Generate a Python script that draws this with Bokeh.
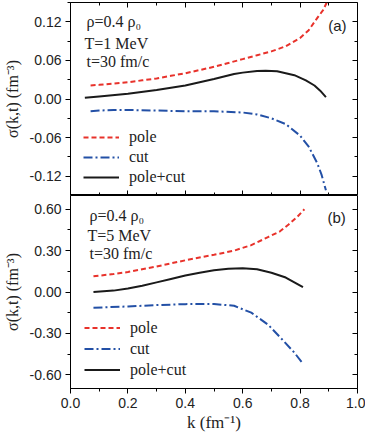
from bokeh.plotting import figure
from bokeh.models import (Range1d, LinearAxis, FixedTicker, Legend, LegendItem,
                          Label, CustomJSTickFormatter)
from bokeh.layouts import column
from bokeh.embed import file_html
from bokeh.resources import INLINE

# ---------------- data: panel (a), T = 1 MeV ----------------
k_pole_a = [0.07, 0.10, 0.15, 0.20, 0.25, 0.30, 0.35, 0.40, 0.45, 0.50, 0.55,
            0.60, 0.65, 0.70, 0.75, 0.80, 0.83, 0.86, 0.88, 0.895]
pole_a = [0.021, 0.022, 0.024, 0.026, 0.029, 0.032, 0.036, 0.040, 0.045, 0.050, 0.056,
          0.062, 0.068, 0.074, 0.082, 0.095, 0.107, 0.126, 0.138, 0.152]

k_cut_a = [0.07, 0.10, 0.15, 0.20, 0.30, 0.40, 0.50, 0.60, 0.65, 0.70, 0.75,
           0.80, 0.83, 0.86, 0.875, 0.89]
cut_a = [-0.019, -0.018, -0.017, -0.017, -0.018, -0.019, -0.019, -0.021, -0.024, -0.030, -0.039,
         -0.057, -0.074, -0.100, -0.118, -0.142]

k_sum_a = [0.05, 0.10, 0.20, 0.30, 0.40, 0.50, 0.57, 0.60, 0.65, 0.68, 0.72,
           0.78, 0.82, 0.85, 0.87, 0.89]
sum_a = [0.002, 0.004, 0.008, 0.014, 0.021, 0.031, 0.039, 0.041, 0.0435, 0.044, 0.043,
         0.037, 0.029, 0.021, 0.013, 0.003]

# ---------------- data: panel (b), T = 5 MeV ----------------
k_pole_b = [0.08, 0.15, 0.20, 0.30, 0.40, 0.50, 0.57, 0.63, 0.69, 0.73, 0.76, 0.79, 0.815]
pole_b = [0.114, 0.130, 0.145, 0.185, 0.230, 0.270, 0.300, 0.340, 0.400, 0.440, 0.490, 0.545, 0.600]

k_cut_b = [0.08, 0.20, 0.30, 0.40, 0.50, 0.57, 0.63, 0.69, 0.74, 0.78, 0.81]
cut_b = [-0.114, -0.105, -0.095, -0.088, -0.087, -0.100, -0.150, -0.240, -0.350, -0.440, -0.520]

k_sum_b = [0.08, 0.15, 0.20, 0.25, 0.30, 0.35, 0.40, 0.45, 0.50, 0.55, 0.60,
           0.65, 0.70, 0.75, 0.81]
sum_b = [0.000, 0.010, 0.025, 0.045, 0.070, 0.095, 0.120, 0.140, 0.157, 0.168, 0.173,
         0.165, 0.140, 0.105, 0.035]

# ---------------- ticks ----------------
x_major = [0.0, 0.2, 0.4, 0.6, 0.8, 1.0]
x_minor = [0.1, 0.3, 0.5, 0.7, 0.9]
ya_major = [-0.12, -0.06, 0.0, 0.06, 0.12]
ya_minor = [-0.15, -0.09, -0.03, 0.03, 0.09, 0.15]
yb_major = [-0.60, -0.30, 0.0, 0.30, 0.60]
yb_minor = [-0.45, -0.15, 0.15, 0.45]

series_labels = ["pole", "cut", "pole+cut"]

RED = "#e8322b"
BLUE = "#2350a6"
BLACK = "#1a1a1a"
SANS = "Liberation Sans"
SERIF = "Liberation Serif"


def style_axis(ax, t_in, t_out, m_in, m_out, labels):
    ax.major_tick_in = t_in
    ax.major_tick_out = t_out
    ax.minor_tick_in = m_in
    ax.minor_tick_out = m_out
    ax.axis_line_color = "black"
    ax.major_tick_line_color = "black"
    ax.minor_tick_line_color = "black"
    if not labels:
        ax.formatter = CustomJSTickFormatter(code="return '';")
        ax.major_label_standoff = 0


def make_panel(height, yr, ymaj, ymin, top, bottom, bottom_labels,
               ks, vals, leg_loc, leg_h, texts, tag, tag_pos):
    p = figure(width=365, height=height, x_range=Range1d(0, 1), y_range=Range1d(*yr),
               output_backend="svg", toolbar_location=None,
               min_border_left=69, min_border_right=8,
               min_border_top=top, min_border_bottom=bottom)
    p.grid.visible = False
    p.outline_line_color = "black"
    p.outline_line_width = 1
    p.background_fill_color = "white"
    p.border_fill_color = "white"

    xt = FixedTicker(ticks=x_major, minor_ticks=x_minor)
    yt = FixedTicker(ticks=ymaj, minor_ticks=ymin)

    # left axis
    yax = p.yaxis[0]
    yax.ticker = yt
    yax.formatter = CustomJSTickFormatter(code="return tick.toFixed(2);")
    style_axis(yax, 0, 5, 0, 3, True)
    yax.major_label_text_font = SANS
    yax.major_label_text_font_size = "14px"
    yax.major_label_text_color = "#222222"
    yax.major_label_standoff = 4
    yax.axis_label = "σ(k,t) (fm⁻³)"
    yax.axis_label_text_font = SERIF
    yax.axis_label_text_font_size = "16px"
    yax.axis_label_text_font_style = "normal"
    yax.axis_label_text_color = "#222222"
    yax.axis_label_standoff = 6

    # bottom axis
    xax = p.xaxis[0]
    xax.ticker = xt
    if bottom_labels:
        xax.formatter = CustomJSTickFormatter(code="return tick.toFixed(1);")
        style_axis(xax, 0, 5, 0, 3, True)
        xax.major_label_text_font = SANS
        xax.major_label_text_font_size = "14px"
        xax.major_label_text_color = "#222222"
        xax.major_label_standoff = 4
        xax.axis_label = "k (fm⁻¹)"
        xax.axis_label_text_font = SERIF
        xax.axis_label_text_font_size = "17px"
        xax.axis_label_text_font_style = "normal"
        xax.axis_label_text_color = "#222222"
        xax.axis_label_standoff = 2
    else:
        style_axis(xax, 5, 0, 3, 0, False)
        xax.fixed_location = yr[0]

    # right axis (inward ticks, no labels)
    rax = LinearAxis(ticker=FixedTicker(ticks=ymaj, minor_ticks=ymin), fixed_location=1.0)
    style_axis(rax, 5, 0, 3, 0, False)
    p.add_layout(rax, "right")

    # top axis (inward ticks, no labels) for upper panel only
    if top > 0:
        tax = LinearAxis(ticker=FixedTicker(ticks=x_major, minor_ticks=x_minor),
                         fixed_location=yr[1])
        style_axis(tax, 5, 0, 3, 0, False)
        p.add_layout(tax, "above")

    r1 = p.line(ks[0], vals[0], line_color=RED, line_width=2, line_dash="5 3")
    r2 = p.line(ks[1], vals[1], line_color=BLUE, line_width=2, line_dash="9 3 2 3")
    r3 = p.line(ks[2], vals[2], line_color=BLACK, line_width=2)

    legend = Legend(items=[LegendItem(label=series_labels[0], renderers=[r1]),
                           LegendItem(label=series_labels[1], renderers=[r2]),
                           LegendItem(label=series_labels[2], renderers=[r3])],
                    location=leg_loc, border_line_alpha=0, background_fill_alpha=0,
                    padding=0, margin=0, spacing=0, glyph_width=36, glyph_height=leg_h,
                    label_height=leg_h, label_standoff=10, label_text_font=SERIF,
                    label_text_font_size="16px", label_text_color="#222222")
    p.add_layout(legend, "center")

    for (tx, ty, s) in texts:
        p.add_layout(Label(x=tx, y=ty, text=s, text_align="left", text_baseline="middle",
                           text_font=SERIF, text_font_size="16px", text_color="#222222"))
    p.add_layout(Label(x=tag_pos[0], y=tag_pos[1], text=tag, text_align="center",
                       text_baseline="middle", text_font=SANS, text_font_size="15px",
                       text_color="#222222"))
    return p


pa = make_panel(195, (-0.15, 0.15), ya_major, ya_minor, 2, 0, False,
                (k_pole_a, k_cut_a, k_sum_a), (pole_a, cut_a, sum_a), (13, 8), 20,
                [(0.056, 0.120, "ρ=0.4 ρ₀"), (0.049, 0.087, "T=1 MeV"), (0.056, 0.058, "t=30 fm/c")],
                "(a)", (0.93, 0.114))

pb = make_panel(242, (-0.7, 0.7), yb_major, yb_minor, 0, 49, True,
                (k_pole_b, k_cut_b, k_sum_b), (pole_b, cut_b, sum_b), (14, 8), 21,
                [(0.066, 0.558, "ρ=0.4 ρ₀"), (0.059, 0.413, "T=5 MeV"), (0.066, 0.282, "t=30 fm/c")],
                "(b)", (0.927, 0.537))

layout = column(pa, pb, spacing=0)
open("out.html", "w").write(file_html(layout, INLINE))
